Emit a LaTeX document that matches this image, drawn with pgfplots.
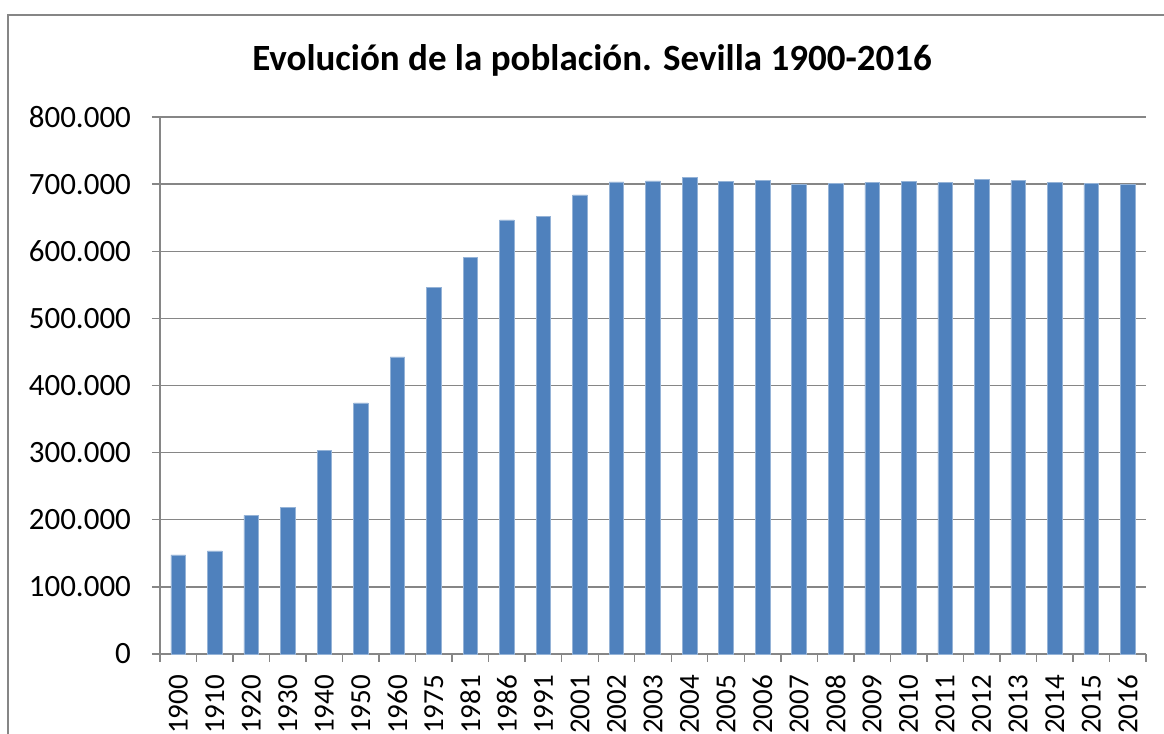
\documentclass[border=0pt]{standalone}
\usepackage{fontspec}
\setmainfont{Carlito}
\usepackage{pgfplots}
\pgfplotsset{compat=1.18}
\definecolor{barblue}{HTML}{4F81BD}
\definecolor{gridgray}{HTML}{868686}

\begin{document}
\begin{tikzpicture}
% 1 px of the reference = 0.5pt
\useasboundingbox (-80pt,-40pt) rectangle (502pt,327pt);
\draw[gridgray, line width=0.6pt] (-76pt,-40pt) -- (-76pt,319.5pt) -- (502pt,319.5pt);
\node[font=\fontsize{18.5}{22}\selectfont\bfseries] at (216pt,297pt) {Evolución de la población. Sevilla 1900-2016};
\begin{axis}[
    at={(0pt,0pt)}, anchor=south west,
    scale only axis,
    width=493pt, height=268.5pt,
    xmin=-0.5, xmax=26.5,
    ymin=0, ymax=800000,
    scaled y ticks=false,
    ytick={0,100000,200000,300000,400000,500000,600000,700000,800000},
    yticklabels={0,100.000,200.000,300.000,400.000,500.000,600.000,700.000,800.000},
    xtick={0,...,26},
    xticklabels={1900,1910,1920,1930,1940,1950,1960,1975,1981,1986,1991,2001,2002,2003,2004,2005,2006,2007,2008,2009,2010,2011,2012,2013,2014,2015,2016},
    minor xtick={-0.5,0.5,...,26.5},
    xticklabel style={rotate=90, anchor=east, font=\fontsize{14.5}{16}\selectfont},
    yticklabel style={font=\fontsize{15.5}{18}\selectfont},
    axis x line*=bottom, axis y line*=left,
    axis line style={gridgray, line width=0.7pt},
    major x tick style={draw=none},
    minor x tick style={gridgray, line width=0.7pt},
    y tick style={gridgray, line width=0.7pt},
    tick align=outside,
    major tick length=4pt, minor tick length=4pt,
    ymajorgrids, grid style={gridgray, line width=0.7pt},
    xticklabel shift=3pt,
    yticklabel shift=7pt,
    ybar, bar width=0.4,
    clip=false,
]
\addplot[fill=barblue, draw=barblue!60!white, line width=0.3pt] coordinates {
    (0,147500) (1,153500) (2,206600) (3,218500) (4,302900)
    (5,374000) (6,442600) (7,546400) (8,590500) (9,646700)
    (10,651600) (11,684000) (12,703300) (13,704700) (14,710600)
    (15,704500) (16,705000) (17,699800) (18,700500) (19,702500)
    (20,704000) (21,702500) (22,707300) (23,705000) (24,703000)
    (25,700500) (26,699500)
};
\end{axis}
\end{tikzpicture}
\end{document}
